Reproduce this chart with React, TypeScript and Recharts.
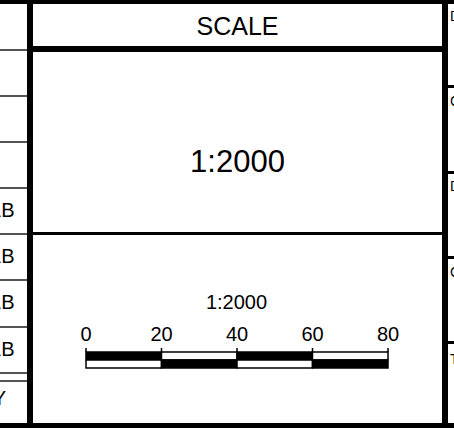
import React from 'react';
import { BarChart, Bar, Cell, XAxis, YAxis } from 'recharts';

// scale bar data (units in metres at 1:2000)
const rows = ['upper', 'lower'];
const segments = [20, 20, 20, 20];
const tickValues = [0, 20, 40, 60, 80];

const title = 'SCALE';
const scaleText = '1:2000';
const leftLabels = ['', '', '', 'LB', 'LB', 'LB', 'LB', 'Y'];
const rightLabels = ['D', 'C', 'D', 'C', 'T'];

const FONT = '"Liberation Sans", Arial, sans-serif';

const data = rows.map((row) => {
  const d: Record<string, string | number> = { row };
  segments.forEach((v, i) => {
    d['s' + i] = v;
  });
  return d;
});

function Line({ x, y, w, h, color = '#000' }: { x: number; y: number; w: number; h: number; color?: string }) {
  return <div style={{ position: 'absolute', left: x, top: y, width: w, height: h, background: color }} />;
}

function Label({ text, top, size, left, width, align = 'center' }: { text: string; top: number; size: number; left: number; width: number; align?: 'center' | 'left' | 'right' }) {
  return (
    <div
      style={{
        position: 'absolute',
        left,
        top,
        width,
        fontSize: size,
        lineHeight: size + 'px',
        textAlign: align,
        whiteSpace: 'nowrap',
        fontFamily: FONT,
        color: '#000'
      }}
    >
      {text}
    </div>
  );
}

export default function App() {
  const leftRowLines = [49, 95, 141, 187, 233, 279, 326, 372, 380];
  const rightRowLines = [85, 171, 256, 341];
  const leftTops = [0, 0, 0, 200, 246, 292, 339, 388];
  const leftRight = [0, 0, 0, 14.5, 14.5, 14.5, 14.5, 6];

  return (
    <div style={{ position: 'absolute', left: 0, top: 0, width: 454, height: 428, background: '#fff', overflow: 'hidden' }}>
      {/* frame */}
      <Line x={0} y={0} w={454} h={4} />
      <Line x={0} y={423} w={454} h={5} />
      <Line x={27} y={0} w={6} h={428} />
      <Line x={442} y={0} w={6} h={428} />
      <Line x={27} y={46} w={421} h={6} />
      <Line x={27} y={232} w={421} h={3} />
      {leftRowLines.map((y) => (
        <Line key={'l' + y} x={0} y={y} w={27} h={1.5} color="#555" />
      ))}
      {rightRowLines.map((y) => (
        <Line key={'r' + y} x={448} y={y} w={6} h={2.5} />
      ))}

      {/* side column texts, clipped by the sheet edge */}
      {leftLabels.map((t, i) =>
        t ? (
          <Label key={'lt' + i} text={t} left={leftRight[i] - 60} width={60} size={20} top={leftTops[i]} align="right" />
        ) : null
      )}
      {rightLabels.map((t, i) => (
        <Label key={'rt' + i} text={t} left={450} width={40} size={14} top={[9, 94, 179, 265, 352][i]} align="left" />
      ))}

      {/* headings */}
      <Label text={title} left={33} width={409} size={25} top={13.5} />
      <Label text={scaleText} left={33} width={409} size={31} top={146} />
      <Label text={scaleText} left={33} width={407} size={20} top={292} />

      {/* graphic scale bar */}
      <div style={{ position: 'absolute', left: 0, top: 300 }}>
        <BarChart
          width={454}
          height={80}
          data={data}
          layout="vertical"
          margin={{ top: 22, right: 66, bottom: 12, left: 86 }}
          barCategoryGap={0}
          barGap={0}
        >
          <XAxis
            type="number"
            orientation="top"
            domain={[0, 80]}
            ticks={tickValues}
            interval={0}
            height={30}
            axisLine={false}
            tickLine={{ stroke: '#000', strokeWidth: 1.5 }}
            tickSize={4}
            tickMargin={7}
            tick={{ fill: '#000', fontSize: 20, fontFamily: FONT }}
          />
          <YAxis type="category" dataKey="row" hide />
          {segments.map((_, i) => (
            <Bar key={i} dataKey={'s' + i} stackId="bar" stroke="#000" strokeWidth={1.5} isAnimationActive={false}>
              {rows.map((row, r) => (
                <Cell key={row} fill={(i + r) % 2 === 0 ? '#000' : '#fff'} />
              ))}
            </Bar>
          ))}
        </BarChart>
      </div>
    </div>
  );
}
